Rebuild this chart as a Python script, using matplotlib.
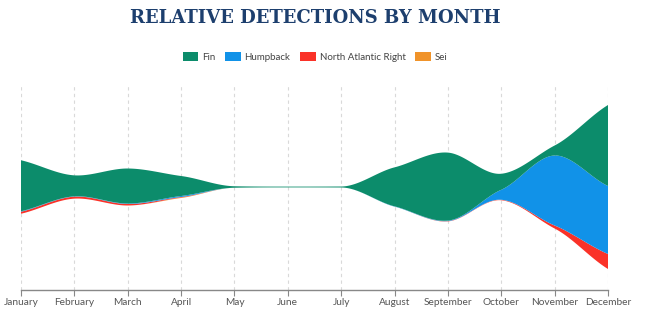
import numpy as np
import matplotlib

matplotlib.use("Agg")

import matplotlib.pyplot as plt
from matplotlib.patches import Patch

# Data (relative detections)
months = ["January", "February", "March", "April", "May", "June",
          "July", "August", "September", "October", "November", "December"]
fin = [51, 21, 35, 20, 1.5, 0.8, 1.0, 39, 68, 16, 10, 81]
humpback = [0.5, 0.3, 0.5, 1.0, 0, 0, 0, 0.3, 0.5, 10, 70, 68]
north_atlantic_right = [2.0, 2.0, 1.5, 0.5, 0, 0, 0, 0, 0.3, 0.5, 3, 15]
sei = [0, 0, 0, 0.5, 0, 0, 0, 0, 0, 0, 0, 0]

series_names = ["Fin", "Humpback", "North Atlantic Right", "Sei"]
colors = ["#0c8c6b", "#1192e8", "#fa3228", "#f0932a"]


def smooth(x, y, n=40, k=0.8):
    # cubic hermite through the points; tangents limited so nothing dips below zero
    x = np.asarray(x, dtype=float)
    y = np.asarray(y, dtype=float)
    d = np.diff(y) / np.diff(x)
    m = np.zeros_like(y)
    m[1:-1] = (d[:-1] + d[1:]) / 2 * k
    for i in range(1, len(y) - 1):
        if d[i - 1] * d[i] <= 0:
            if y[i] < 3:
                m[i] = 0
        else:
            lim = 3 * min(abs(d[i - 1]), abs(d[i]))
            m[i] = np.sign(m[i]) * min(abs(m[i]), lim)
    m[0] = d[0] * k
    m[-1] = d[-1] * k
    xs, ys = [], []
    for i in range(len(x) - 1):
        h = x[i + 1] - x[i]
        t = np.linspace(0, 1, n, endpoint=False)
        h00 = 2 * t**3 - 3 * t**2 + 1
        h10 = t**3 - 2 * t**2 + t
        h01 = -2 * t**3 + 3 * t**2
        h11 = t**3 - t**2
        xs.append(x[i] + t * h)
        ys.append(h00 * y[i] + h10 * h * m[i] + h01 * y[i + 1] + h11 * h * m[i + 1])
    xs.append([x[-1]])
    ys.append([y[-1]])
    return np.concatenate(xs), np.clip(np.concatenate(ys), 0, None)


x = np.arange(len(months))
layers = [sei, north_atlantic_right, humpback, fin]
layer_colors = [colors[3], colors[2], colors[1], colors[0]]
xs = None
ys = []
for s in layers:
    xs, yy = smooth(x, s)
    ys.append(yy)

fig = plt.figure(figsize=(6.66, 3.23), dpi=100)
ax = fig.add_axes([21 / 666, 33 / 323, 587 / 666, 206 / 323])

ax.stackplot(xs, *ys, colors=layer_colors, baseline="sym", linewidth=0)

ax.set_xlim(0, len(months) - 1)
ax.set_ylim(-103, 103)
ax.set_xticks(x)
ax.set_xticklabels(months, fontsize=7.3, color="#555555", family="Lato")
ax.set_yticks([])
ax.grid(axis="x", color="#d9d9d9", linestyle=(0, (3, 3)), linewidth=0.8)
ax.set_axisbelow(True)
for side in ["top", "right", "left"]:
    ax.spines[side].set_visible(False)
ax.spines["bottom"].set_color("#888888")
ax.spines["bottom"].set_linewidth(1.0)
ax.tick_params(axis="x", length=4, color="#888888", pad=2)

fig.text(315 / 666, 1 - 18 / 323, "RELATIVE DETECTIONS BY MONTH",
         ha="center", va="center", fontsize=13, fontweight="bold",
         family="DejaVu Serif", color="#1d3f6e")

handles = [Patch(facecolor=c, edgecolor="none") for c in colors]
fig.legend(handles, series_names, loc="center", bbox_to_anchor=(315 / 666, 1 - 57 / 323),
           ncol=4, frameon=False, handlelength=1.6, handleheight=1.0,
           handletextpad=0.4, columnspacing=1.0, labelcolor="#444444",
           prop={"family": "Lato", "size": 7})

fig.savefig("out.png", dpi=100)
